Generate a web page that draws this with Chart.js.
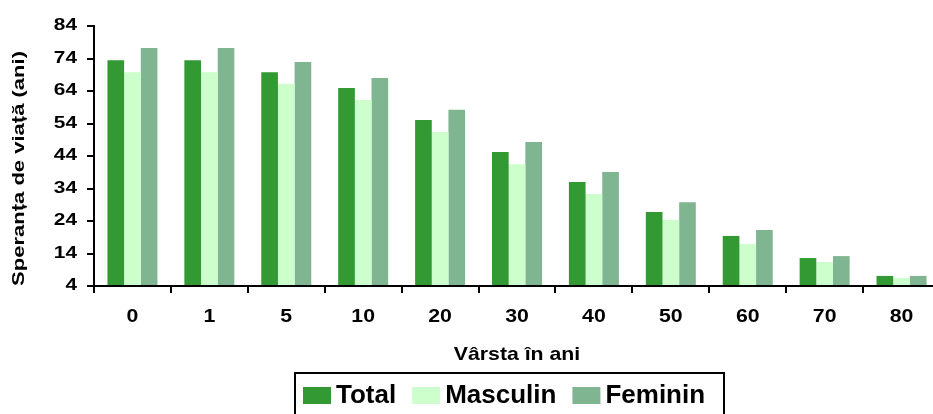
<!DOCTYPE html>
<html>
<head>
<meta charset="utf-8">
<script src="https://cdn.jsdelivr.net/npm/chart.js@4/dist/chart.umd.min.js"></script>
<style>
  html, body { margin: 0; padding: 0; background: #fff; }
  #frame { width: 933px; height: 414px; overflow: hidden; position: relative; }
  #chart { display: block; }
</style>
</head>
<body>
<div id="frame"><canvas id="chart" width="940" height="414"></canvas></div>
<script>
// Age groups (years) and life expectancy by sex
const categories = ['0', '1', '5', '10', '20', '30', '40', '50', '60', '70', '80'];
const totalValues = [73.5, 73.5, 69.8, 64.9, 55.1, 45.2, 36.0, 26.8, 19.4, 12.6, 7.1];
const maleValues = [69.8, 69.8, 66.2, 61.2, 51.4, 41.5, 32.3, 24.3, 16.9, 11.4, 6.5];
const femaleValues = [77.2, 77.2, 72.9, 68.0, 58.2, 48.3, 39.1, 29.8, 21.2, 13.2, 7.1];
const seriesNames = ['Total', 'Masculin', 'Feminin'];
const yMin = 4, yMax = 84, yStep = 10;

const colors = ['#339933', '#ccffcc', '#80b592'];
const FONT = "'Liberation Sans', Arial, sans-serif";

// Wide-set lettering for the axis text: each font size gets its own horizontal stretch
const textStretch = { '16': 1.3, '16.5': 1.335, '19': 1.12, '18.5': 1.15 };
const canvas = document.getElementById('chart');
const ctx2d = canvas.getContext('2d');
const baseFillText = ctx2d.fillText.bind(ctx2d);
ctx2d.fillText = function (text, x, y, maxWidth) {
  const m = /([\d.]+)px/.exec(this.font);
  const s = m ? (textStretch[m[1]] || 1) : 1;
  if (s === 1) {
    return maxWidth === undefined ? baseFillText(text, x, y) : baseFillText(text, x, y, maxWidth);
  }
  this.save();
  this.translate(x, y);
  this.scale(s, 1);
  if (maxWidth === undefined) baseFillText(text, 0, 0);
  else baseFillText(text, 0, 0, maxWidth / s);
  this.restore();
};

// Framed legend row under the axis title
const boxedLegend = {
  id: 'boxedLegend',
  afterDraw(chart) {
    const ctx = chart.ctx;
    ctx.save();
    ctx.strokeStyle = '#000';
    ctx.lineWidth = 2;
    ctx.strokeRect(295, 373, 429, 60);
    ctx.font = 'bold 26px ' + FONT;
    ctx.textBaseline = 'alphabetic';
    ctx.textAlign = 'left';
    let x = 303;
    chart.data.datasets.forEach(ds => {
      ctx.fillStyle = ds.backgroundColor;
      ctx.fillRect(x, 387, 28, 17);
      ctx.fillStyle = '#000';
      ctx.fillText(ds.label, x + 33, 403);
      x += 33 + ctx.measureText(ds.label).width + 16;
    });
    ctx.restore();
  }
};

Chart.defaults.color = '#000';
Chart.defaults.font.family = FONT;

const series = [totalValues, maleValues, femaleValues];

new Chart(ctx2d, {
  type: 'bar',
  data: {
    labels: categories,
    datasets: series.map((vals, i) => ({
      label: seriesNames[i],
      data: vals,
      backgroundColor: colors[i],
      borderWidth: 0,
      base: yMin,
      barPercentage: 1.0,
      categoryPercentage: 0.65
    }))
  },
  options: {
    responsive: false,
    animation: false,
    devicePixelRatio: 1,
    layout: { padding: { top: 26, right: 0, bottom: 42, left: 0 } },
    plugins: {
      legend: { display: false },
      tooltip: { enabled: false }
    },
    scales: {
      x: {
        offset: true,
        grid: {
          display: true,
          offset: true,
          drawOnChartArea: false,
          drawTicks: true,
          tickLength: 7,
          color: '#000',
          lineWidth: 2
        },
        border: { display: true, color: '#000', width: 2 },
        ticks: {
          font: { size: 19, weight: 'bold' },
          padding: 12,
          maxRotation: 0,
          autoSkip: false
        },
        title: {
          display: true,
          text: 'Vârsta în ani',
          font: { size: 18.5, weight: 'bold' },
          padding: { top: 0, bottom: 6 }
        },
        afterFit(scale) { scale.height = 86; }
      },
      y: {
        min: yMin,
        max: yMax,
        grid: {
          display: true,
          drawOnChartArea: false,
          drawTicks: true,
          tickLength: 7,
          color: '#000',
          lineWidth: 2
        },
        border: { display: true, color: '#000', width: 2 },
        ticks: {
          stepSize: yStep,
          font: { size: 16, weight: 'bold' },
          padding: 10
        },
        title: {
          display: true,
          text: 'Speranța de viață (ani)',
          align: 'start',
          font: { size: 16.5, weight: 'bold' },
          padding: { top: 9.3, bottom: 0 }
        },
        afterFit(scale) { scale.width = 94; }
      }
    }
  },
  plugins: [boxedLegend]
});
</script>
</body>
</html>
